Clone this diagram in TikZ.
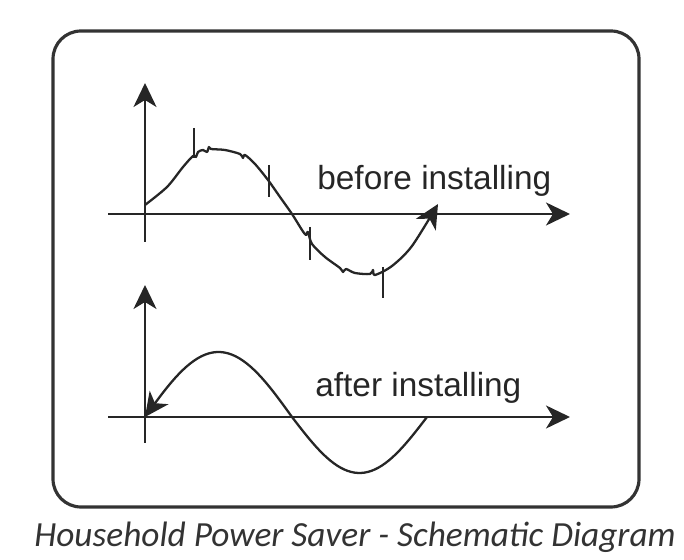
\documentclass[tikz,border=0pt]{standalone}
\usepackage{fontspec}
\setmainfont{Liberation Sans}
\newfontfamily\capfont{Carlito}
\usepackage{tikz}
\usetikzlibrary{arrows.meta}

\tikzset{
  axisline/.style={line width=1.3pt, black!85},
  wave/.style={line width=1.3pt, black!85},
  wavetext/.style={anchor=base west, inner sep=0pt, text=black!85, font=\fontsize{19}{22}\selectfont},
}

\begin{document}
\begin{tikzpicture}[>={Stealth[length=0.48cm,width=0.46cm,inset=0.14cm]}]
\useasboundingbox (0,0) rectangle (13.68,11.2);

% Frame
\draw[line width=1.8pt, black!80, rounded corners=0.56cm] (1.06,1.06) rectangle (12.78,10.58);

% Upper axes
\coordinate (O1) at (2.9,6.92);
\draw[axisline, ->] (2.9,6.36) -- (2.9,9.54);
\draw[axisline, ->] (2.16,6.92) -- (11.4,6.92);

% Upper wave (before)
\draw[wave, ->, line join=round] plot[smooth, tension=0.5] coordinates {
  (2.90,7.10) (3.34,7.46) (3.66,7.86) (3.86,8.08) (3.92,8.06) (3.96,8.16)
  (4.06,8.20) (4.14,8.16) (4.18,8.26) (4.22,8.22) (4.50,8.20) (4.80,8.12)
  (4.86,8.04) (4.90,8.10) (5.10,7.92) (5.36,7.60) (5.60,7.26) (5.84,6.92)
  (6.04,6.60) (6.12,6.50) (6.16,6.56) (6.24,6.32) (6.50,6.06) (6.80,5.84)
  (6.86,5.76) (6.92,5.82) (7.10,5.74) (7.40,5.72) (7.46,5.80) (7.50,5.70)
  (7.84,5.88) (8.24,6.28) (8.76,7.12)};
% spikes
\draw[wave] (3.88,8.64) -- (3.88,8.04);
\draw[wave] (5.38,7.90) -- (5.38,7.26);
\draw[wave] (6.20,6.66) -- (6.20,6.00);
\draw[wave] (7.66,5.86) -- (7.66,5.24);

\node[wavetext] (before) at (6.34,7.40) {before installing};

% Lower axes
\coordinate (O2) at (2.9,2.86);
\draw[axisline, ->] (2.9,2.34) -- (2.9,5.5);
\draw[axisline, ->] (2.16,2.86) -- (11.4,2.86);

% Lower wave (after)
\draw[wave, <-] plot[domain=0:180, samples=40] ({2.9+\x/180*2.94},{2.86+1.3*sin(\x)})
  -- plot[domain=180:360, samples=40] ({5.84+(\x-180)/180*2.7},{2.86+1.12*sin(\x)});

\node[wavetext] (after) at (6.30,3.26) {after installing};

% Caption
\node[anchor=base west, inner sep=0pt, text=black!80, font=\capfont\itshape\fontsize{20.1}{24}\selectfont] (caption) at (0.68,0.26) {Household Power Saver - Schematic Diagram};
\end{tikzpicture}
\end{document}
